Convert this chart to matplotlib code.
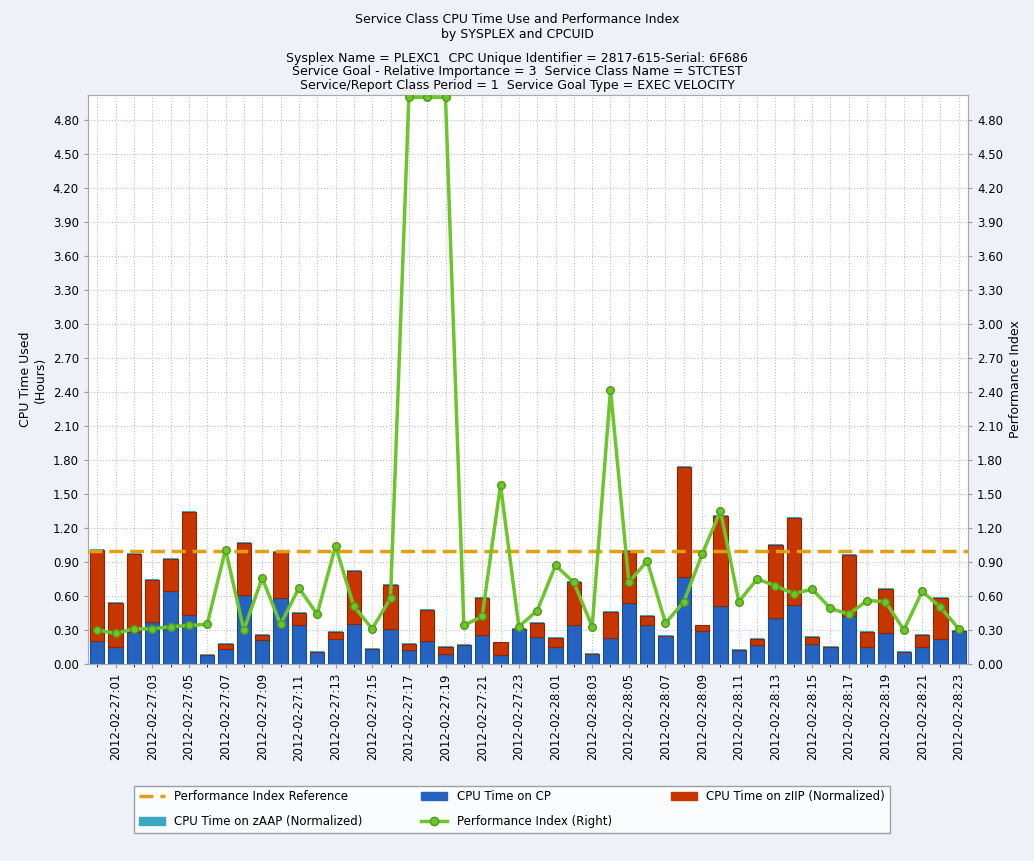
import numpy as np
import matplotlib.pyplot as plt
from matplotlib.lines import Line2D
from matplotlib.patches import Patch

hours = ["2012-02-27:%02d" % h for h in range(24)] + ["2012-02-28:%02d" % h for h in range(24)]
cpu_total = [1.01, 0.54, 0.97, 0.74, 0.93, 1.34, 0.08, 0.18, 1.07, 0.26, 0.99, 0.45,
             0.11, 0.28, 0.82, 0.13, 0.70, 0.18, 0.48, 0.15, 0.17, 0.58, 0.19, 0.31,
             0.36, 0.23, 0.72, 0.09, 0.46, 1.00, 0.42, 0.25, 1.74, 0.34, 1.31, 0.12,
             0.22, 1.05, 1.29, 0.24, 0.15, 0.96, 0.28, 0.66, 0.11, 0.26, 0.58, 0.29]
cpu_cp = [0.20, 0.15, 0.28, 0.37, 0.64, 0.43, 0.08, 0.13, 0.61, 0.21, 0.58, 0.34,
          0.11, 0.22, 0.35, 0.13, 0.31, 0.12, 0.20, 0.09, 0.17, 0.26, 0.08, 0.31,
          0.24, 0.15, 0.34, 0.09, 0.23, 0.54, 0.34, 0.25, 0.77, 0.29, 0.51, 0.12,
          0.17, 0.41, 0.52, 0.18, 0.15, 0.42, 0.15, 0.27, 0.11, 0.15, 0.22, 0.29]
cpu_zaap = [0.008] * 48
perf_index = [0.30, 0.27, 0.31, 0.31, 0.33, 0.34, 0.35, 1.01, 0.30, 0.76, 0.35, 0.67,
              0.44, 1.04, 0.51, 0.31, 0.58, 5.00, 5.00, 5.00, 0.34, 0.42, 1.58, 0.33,
              0.47, 0.87, 0.72, 0.33, 2.42, 0.72, 0.91, 0.36, 0.55, 0.97, 1.35, 0.55,
              0.75, 0.69, 0.62, 0.66, 0.49, 0.44, 0.56, 0.55, 0.30, 0.64, 0.50, 0.31]
pi_reference = 1.0

cpu_ziip = [t - c for t, c in zip(cpu_total, cpu_cp)]
x = np.arange(len(hours))

fig = plt.figure(figsize=(10.34, 8.61), dpi=100)
fig.patch.set_facecolor("#eef2f8")
ax = fig.add_axes([88/1034, 1-664/861, 880/1034, 569/861])
ax.set_facecolor("white")

ax.bar(x, cpu_cp, 0.78, color="#2563c0", edgecolor="#1a4a94", linewidth=0.8, zorder=2)
ax.bar(x, cpu_ziip, 0.78, bottom=cpu_cp, color="#c83600", edgecolor="#8a2500", linewidth=0.8, zorder=2)
ax.bar(x, cpu_zaap, 0.78, bottom=cpu_total, color="#3aa8c0", linewidth=0, zorder=2)

ax2 = ax.twinx()
ax2.axhline(pi_reference, color="#e0a010", lw=2.5, ls=(0, (4, 2)), zorder=3)
ax2.plot(x, perf_index, color="#6cc52a", lw=2.5, marker="o", ms=5.5,
         mfc="#6cc52a", mec="#4e9a1a", zorder=4)

yt = np.arange(0, 4.81, 0.30)
for a in (ax, ax2):
    a.set_ylim(0, 5.02)
    a.set_yticks(yt)
    a.set_yticklabels(["%.2f" % v for v in yt], fontsize=8.5)
    a.tick_params(length=3, color="#999999")
    for s in a.spines.values():
        s.set_color("#aaaaaa")
ax.set_xlim(-0.5, len(hours) - 0.5)
ax.set_xticks(x[1::2])
ax.set_xticklabels(hours[1::2], rotation=90, fontsize=8.5)
ax.set_xticks(x, minor=True)
ax.grid(True, color="#b8c0c8", ls=":", lw=0.8, zorder=0)
ax.grid(True, which="minor", axis="x", color="#b8c0c8", ls=":", lw=0.8)
ax.set_axisbelow(True)
ax.set_ylabel("CPU Time Used\n(Hours)", fontsize=9)
ax2.set_ylabel("Performance Index", fontsize=9)

fig.text(0.5, 0.985, "Service Class CPU Time Use and Performance Index\nby SYSPLEX and CPCUID",
         ha="center", va="top", fontsize=9)
fig.text(0.5, 0.94, "Sysplex Name = PLEXC1  CPC Unique Identifier = 2817-615-Serial: 6F686\n"
         "Service Goal - Relative Importance = 3  Service Class Name = STCTEST\n"
         "Service/Report Class Period = 1  Service Goal Type = EXEC VELOCITY",
         ha="center", va="top", fontsize=9, linespacing=1.05)

# column-major fill so rows read: ref, CP, zIIP / zAAP, PI
h_ref = Line2D([], [], color="#e0a010", lw=2.5, ls=(0, (4, 2)))
h_cp = Patch(color="#2563c0")
h_ziip = Patch(color="#c83600")
h_zaap = Patch(color="#3aa8c0")
h_pi = Line2D([], [], color="#6cc52a", lw=2.5, marker="o", mfc="#6cc52a", mec="#4e9a1a")
handles = [h_ref, h_zaap, h_cp, h_pi, h_ziip]
labels = ["Performance Index Reference", "CPU Time on zAAP (Normalized)", "CPU Time on CP",
          "Performance Index (Right)", "CPU Time on zIIP (Normalized)"]
fig.legend(handles, labels, loc="center", bbox_to_anchor=(0.495, 0.06), ncol=3,
           fontsize=8.5, frameon=True, fancybox=False, edgecolor="#888888",
           columnspacing=5, handlelength=2.2, labelspacing=1.0)

fig.savefig("out.png", dpi=100, facecolor=fig.get_facecolor())
